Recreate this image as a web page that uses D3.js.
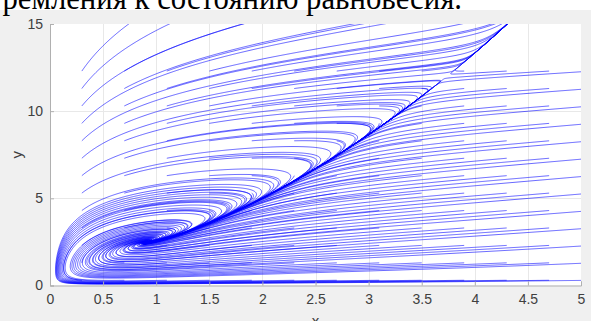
<!DOCTYPE html>
<html>
<head>
<meta charset="utf-8">
<script src="https://cdn.jsdelivr.net/npm/d3@7"></script>
<style>
  html, body { margin: 0; padding: 0; background: #f0f0f0; }
  svg { display: block; }
</style>
</head>
<body>
<svg id="chart" width="591" height="321"></svg>
<script>
// Phase portrait of  x' = x * F(x, y),  y' = y * G(x, y)
//   F = kx * (y - R(x)) above the nullcline R, saturating to -fMax below it
//   R = r0 + r1 x + r2 x^2
//   G = ky * (g0 - g1 x (1 + g3 exp(-y / g4)) + g2 y^2)
const ridgeCoef = [0.8, 1.5, 0.4];
const growthCoef = [1.601, 1.0, 0.01583, 2.0, 3.0];
const rateCoef = [2.0, 1.3];
const fMax = [13.0];

// starting points of the streamlines
const seedX = [0.3, 0.7, 1.1, 1.5, 1.9, 2.3, 2.7, 3.1, 3.5, 3.9, 4.3, 4.7, 5.1];
const seedY = [0.3, 1.3, 2.3, 3.3, 4.3, 5.3, 6.3, 7.3, 8.3, 9.3, 10.3, 11.3, 12.3];

const xTicks = [0, 0.5, 1, 1.5, 2, 2.5, 3, 3.5, 4, 4.5, 5];
const yTicks = [0, 5, 10, 15];
const xDomain = [0, 5];
const yDomain = [0, 15];

const caption = "стремления к состоянию равновесия.";

const svg = d3.select("#chart");
const W = 591, H = 321;
const plot = { left: 50, right: 581, top: 24, bottom: 285.5 };

const x = d3.scaleLinear().domain(xDomain).range([plot.left, plot.right]);
const y = d3.scaleLinear().domain(yDomain).range([plot.bottom, plot.top]);

// page strip with the caption line above the figure
svg.append("rect").attr("x", 0).attr("y", 0).attr("width", W).attr("height", 10).attr("fill", "#ffffff");
svg.append("text")
  .attr("x", -25).attr("y", 8.5)
  .attr("font-family", "Liberation Serif, Times New Roman, serif")
  .attr("font-size", 34)
  .attr("textLength", 487)
  .attr("lengthAdjust", "spacingAndGlyphs")
  .attr("fill", "#000")
  .text(caption);

// axes background
svg.append("rect")
  .attr("x", plot.left).attr("y", plot.top)
  .attr("width", plot.right - plot.left).attr("height", plot.bottom - plot.top)
  .attr("fill", "#ffffff");

// grid
const grid = svg.append("g").attr("stroke", "#e8e8e8").attr("stroke-width", 1);
grid.selectAll("line.gx").data(xTicks.slice(1, -1)).join("line")
  .attr("x1", d => Math.round(x(d)) + 0.5).attr("x2", d => Math.round(x(d)) + 0.5)
  .attr("y1", plot.top).attr("y2", plot.bottom);
grid.selectAll("line.gy").data(yTicks.slice(1, -1)).join("line")
  .attr("y1", d => Math.round(y(d)) + 0.5).attr("y2", d => Math.round(y(d)) + 0.5)
  .attr("x1", plot.left).attr("x2", plot.right);

// vector field
function field(px, py) {
  const R = ridgeCoef[0] + ridgeCoef[1] * px + ridgeCoef[2] * px * px;
  const d = py - R;
  const F = d >= 0 ? rateCoef[0] * d : -fMax[0] * Math.tanh(-d * rateCoef[0] / fMax[0]);
  const [g0, g1, g2, g3, g4] = growthCoef;
  const G = rateCoef[1] * (g0 - g1 * px * (1 + g3 * Math.exp(-py / g4)) + g2 * py * py);
  return [px * F, py * G];
}

const sx = x(1) - x(0);
const sy = y(0) - y(1);

function trace(x0, y0) {
  const pts = [[x0, y0]];
  let cx = x0, cy = y0, t = 0;
  for (let i = 0; i < 9000; i++) {
    const [u, v] = field(cx, cy);
    const sp = Math.hypot(u * sx, v * sy);
    if (sp < 1e-4) break;
    const dt = Math.min(0.02, 1.0 / sp);
    const k1 = field(cx, cy);
    const k2 = field(cx + dt / 2 * k1[0], cy + dt / 2 * k1[1]);
    const k3 = field(cx + dt / 2 * k2[0], cy + dt / 2 * k2[1]);
    const k4 = field(cx + dt * k3[0], cy + dt * k3[1]);
    cx += dt / 6 * (k1[0] + 2 * k2[0] + 2 * k3[0] + k4[0]);
    cy += dt / 6 * (k1[1] + 2 * k2[1] + 2 * k3[1] + k4[1]);
    t += dt;
    if (cx < 0 || cx > 5.2 || cy < 0 || cy > 15.3) { pts.push([cx, cy]); break; }
    pts.push([cx, cy]);
    if (t > 25) break;
  }
  return pts;
}

const seeds = [];
seedX.forEach(sxv => seedY.forEach(syv => seeds.push([sxv, syv])));
const lines = seeds.map(s => trace(s[0], s[1]));

svg.append("clipPath").attr("id", "clip")
  .append("rect")
  .attr("x", plot.left).attr("y", plot.top)
  .attr("width", plot.right - plot.left).attr("height", plot.bottom - plot.top);

const lineGen = d3.line().x(d => x(d[0])).y(d => y(d[1]));

svg.append("g").attr("clip-path", "url(#clip)")
  .selectAll("path").data(lines).join("path")
  .attr("d", lineGen)
  .attr("fill", "none")
  .attr("stroke", "#0000ff")
  .attr("stroke-opacity", 0.8)
  .attr("stroke-width", 0.75);

// axes
const axisColor = "#b0b0b0";
const xAxis = svg.append("g")
  .attr("transform", `translate(0,${plot.bottom})`)
  .call(d3.axisBottom(x).tickValues(xTicks).tickFormat(d3.format("")).tickSize(-4).tickPadding(9));
const yAxis = svg.append("g")
  .attr("transform", `translate(${plot.left},0)`)
  .call(d3.axisLeft(y).tickValues(yTicks).tickFormat(d3.format("")).tickSize(-4).tickPadding(7));

[xAxis, yAxis].forEach(g => {
  g.select(".domain").attr("stroke", axisColor);
  g.selectAll(".tick line").attr("stroke", axisColor);
  g.selectAll(".tick text")
    .attr("fill", "#404040")
    .attr("font-family", "Liberation Sans, Arial, Helvetica, sans-serif")
    .attr("font-size", 14);
});

svg.append("text")
  .attr("x", (plot.left + plot.right) / 2).attr("y", 326)
  .attr("text-anchor", "middle")
  .attr("font-family", "Liberation Sans, Arial, sans-serif")
  .attr("font-size", 15).attr("fill", "#404040")
  .text("x");

svg.append("text")
  .attr("transform", `translate(22,${(plot.top + plot.bottom) / 2}) rotate(-90)`)
  .attr("text-anchor", "middle")
  .attr("font-family", "Liberation Sans, Arial, sans-serif")
  .attr("font-size", 15).attr("fill", "#404040")
  .text("y");
</script>
</body>
</html>
